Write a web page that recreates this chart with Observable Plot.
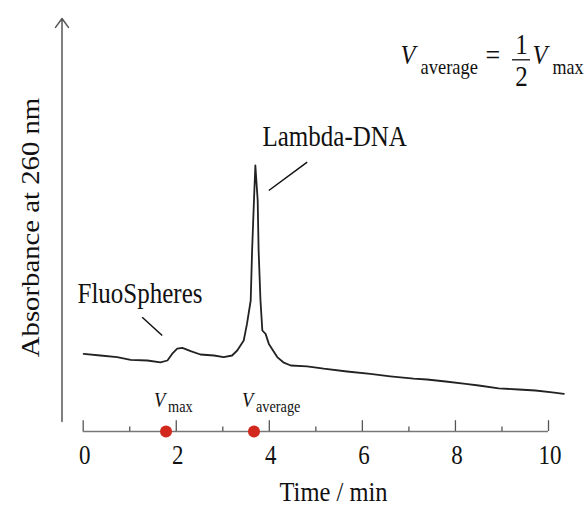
<!DOCTYPE html>
<html>
<head>
<meta charset="utf-8">
<script src="https://cdn.jsdelivr.net/npm/d3@7"></script>
<script src="https://cdn.jsdelivr.net/npm/@observablehq/plot@0.6"></script>
<style>
  html, body { margin: 0; padding: 0; background: #fff; }
  #chart svg text { font-family: "Liberation Serif", "Times New Roman", "DejaVu Serif", serif !important; }
</style>
</head>
<body>
<div id="chart"></div>
<script>
// ---- data ----
const time = [0.01, 0.37, 0.73, 1.02, 1.38, 1.66, 1.81, 1.91, 2.02, 2.13, 2.31, 2.52, 2.81, 3.02, 3.20, 3.31, 3.45, 3.52, 3.60, 3.63, 3.67, 3.70, 3.75, 3.77, 3.81, 3.85, 3.92, 3.99, 4.17, 4.30, 4.46, 4.81, 5.17, 5.67, 6.17, 6.60, 7.10, 7.39, 7.79, 8.22, 8.50, 8.93, 9.36, 9.72, 10.08, 10.33];
const absorbance = [19.4, 19.0, 18.6, 17.9, 17.75, 17.3, 17.75, 19.4, 20.7, 20.9, 20.1, 19.25, 19.0, 18.6, 19.0, 20.25, 22.75, 26.9, 32.75, 45.25, 57.75, 66.5, 57.75, 45.25, 32.75, 25.25, 24.4, 21.9, 18.6, 17.3, 16.5, 16.3, 15.7, 15.0, 14.4, 13.8, 13.2, 13.0, 12.5, 11.9, 11.5, 10.8, 10.5, 10.25, 9.8, 9.4];
const majorTicks = [0, 2, 4, 6, 8, 10];
const minorTicks = [1, 3, 5, 7, 9];
const markerTimes = [1.78, 3.67];
const markerSubs = ["max", "average"];
const peakLabels = ["FluoSpheres", "Lambda-DNA"];

const trace = time.map((t, i) => ({t, a: absorbance[i]}));
const markers = markerTimes.map((t, i) => ({t, sub: markerSubs[i]}));

// pixel -> data helpers for annotation placement
const X0 = 82.7, XS = 46.53, Y0 = 431, YS = 4;
const dx = px => (px - X0) / XS;
const dy = py => (Y0 - py) / YS;

const serif = "Liberation Serif";
const ink = "#111";

function label(txt, x, y, opts = {}) {
  return Plot.text([txt], {
    text: d => d, frameAnchor: "top-left", dx: x, dy: y,
    lineAnchor: "bottom", textAnchor: "start",
    fontSize: 25, fill: ink, fontFamily: serif, ...opts
  });
}

const chart = Plot.plot({
  width: 585,
  height: 507,
  margin: 0,
  style: {fontFamily: serif, background: "#fff"},
  x: {domain: [0, 10], range: [X0, X0 + 10 * XS], axis: null},
  y: {domain: [0, 100], range: [Y0, Y0 - 100 * YS], axis: null},
  marks: [
    // y axis with arrow
    Plot.arrow([0], {x1: dx(61.5), x2: dx(61.5), y1: dy(421), y2: dy(18), stroke: "#555", strokeWidth: 1.5, headLength: 11, headAngle: 72}),
    // x axis line and ticks
    Plot.ruleY([0], {x1: 0, x2: 10, stroke: "#777", strokeWidth: 1.5}),
    Plot.ruleX(majorTicks, {x: d => d, y1: 0, y2: 2.7, stroke: "#555", strokeWidth: 1.3}),
    Plot.ruleX(minorTicks, {x: d => d, y1: 0, y2: 1.1, stroke: "#555", strokeWidth: 1.3}),
    Plot.text(majorTicks, {x: d => d, y: 0, dx: 1.5, dy: 32.5, text: d => String(d), lineAnchor: "bottom", fontSize: 23, fill: ink, fontFamily: serif}),
    // trace
    Plot.line(trace, {x: "t", y: "a", stroke: "#222", strokeWidth: 1.8, strokeLinejoin: "round"}),
    // red markers
    Plot.dot(markers, {x: "t", y: 0, r: 6, fill: "#d3281e", stroke: "none"}),
    Plot.text(markers, {x: "t", y: 0, dx: -12, dy: -24.3, text: () => "V", fontStyle: "italic", fontSize: 18.5, textAnchor: "start", lineAnchor: "bottom", fill: ink, fontFamily: serif}),
    Plot.text(markers, {x: "t", y: 0, dx: 2, dy: -19.3, text: "sub", fontSize: 14.3, textAnchor: "start", lineAnchor: "bottom", fill: ink, fontFamily: serif}),
    // peak labels + pointer lines
    label(peakLabels[0], 77, 302),
    label(peakLabels[1], 262, 145),
    Plot.link([0], {x1: dx(141.7), y1: dy(316.7), x2: dx(161.7), y2: dy(335), stroke: ink, strokeWidth: 1.5}),
    Plot.link([0], {x1: dx(306.7), y1: dy(161.7), x2: dx(268.3), y2: dy(190), stroke: ink, strokeWidth: 1.5}),
    // equation
    label("V", 400, 63.5, {fontStyle: "italic", fontSize: 24.5}),
    label("average", 420, 73, {fontSize: 18.5}),
    label("=", 485, 64, {fontSize: 26}),
    label("1", 521, 53, {fontSize: 25, textAnchor: "middle"}),
    Plot.ruleY([0], {y: dy(59.3), x1: dx(512), x2: dx(530), stroke: ink, strokeWidth: 1.3}),
    label("2", 521, 85, {fontSize: 25, textAnchor: "middle"}),
    label("V", 532, 63.5, {fontStyle: "italic", fontSize: 24.5}),
    label("max", 552, 73, {fontSize: 18}),
    // axis titles
    label("Time / min", 333, 500.5, {textAnchor: "middle", fontSize: 24.5}),
    Plot.text(["Absorbance at 260 nm"], {text: d => d, frameAnchor: "top-left", dx: 38, dy: 227, rotate: -90, textAnchor: "middle", lineAnchor: "bottom", fontSize: 25, fill: ink, fontFamily: serif})
  ]
});
// the reference figure is stretched vertically: stretch glyphs the same way around their anchor
d3.select(chart).selectAll("text").each(function() {
  const t = this.getAttribute("transform");
  if (t && /^translate\([^)]*\)/.test(t)) {
    this.setAttribute("transform", t.replace(/^(translate\([^)]*\))/, "$1 scale(1,1.15)"));
  }
});
document.getElementById("chart").appendChild(chart);
</script>
</body>
</html>
